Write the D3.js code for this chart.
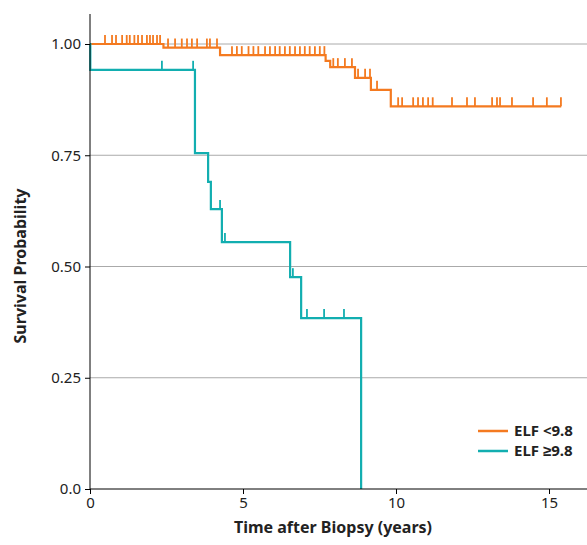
<!DOCTYPE html>
<html><head><meta charset="utf-8">
<script src="https://cdn.jsdelivr.net/npm/d3@7"></script>
<style>body{margin:0;background:#fff}text{font-family:"Noto Sans",sans-serif}</style>
</head><body><svg id="chart" width="587" height="545"></svg>
<script>
// step curves: [time, survival]
const lowSteps = [[0,1],[2.4,0.992],[4.25,0.975],[7.7,0.962],[7.85,0.948],[8.66,0.924],[9.18,0.897],[9.83,0.86],[15.4,0.86]];
const lowCensor = [0.49,0.72,0.85,1.05,1.2,1.3,1.45,1.57,1.7,1.86,1.96,2.06,2.19,2.29,
  2.55,2.78,3.0,3.17,3.33,3.5,3.82,3.92,4.15,
  4.64,4.8,4.96,5.18,5.34,5.5,5.72,5.88,6.05,6.2,6.37,6.53,6.7,6.86,7.02,7.18,7.35,7.51,7.66,
  7.95,8.1,8.33,8.56,8.76,8.99,9.15,9.38,
  10.07,10.2,10.56,10.72,10.88,11.05,11.2,11.83,12.32,12.58,13.14,13.3,13.4,13.79,14.48,14.93,15.39];
const highSteps = [[0,1],[0.01,0.942],[3.43,0.755],[3.86,0.69],[3.95,0.629],[4.31,0.555],[6.54,0.476],[6.9,0.384],[8.86,0],[8.86,0]];
const highCensor = [2.35,3.37,4.25,4.41,6.63,7.09,7.65,8.3];
const yTicks = [0,0.25,0.5,0.75,1];
const yTickLabels = ["0.0","0.25","0.50","0.75","1.00"];
const xTicks = [0,5,10,15];
const legendLabels = ["ELF <9.8","ELF \u22659.8"];
const colors = ["#F47A20","#12AEB0"];

const svg = d3.select("#chart");
const x = d3.scaleLinear().domain([0,15]).range([90,549]);
const y = d3.scaleLinear().domain([0,1]).range([489,44]);

// grid
svg.selectAll(".grid").data(yTicks.filter(d => d > 0)).enter().append("line")
  .attr("x1",90).attr("x2",587).attr("y1",d => y(d)).attr("y2",d => y(d))
  .attr("stroke","#aaa").attr("stroke-width",1);

function stepAt(steps, t) {
  let v = steps[0][1];
  for (const s of steps) if (s[0] <= t) v = s[1];
  return v;
}
const line = d3.line().x(d => x(d[0])).y(d => y(d[1])).curve(d3.curveStepAfter);
[[lowSteps,lowCensor],[highSteps,highCensor]].forEach(([steps,cens],i) => {
  svg.append("path").attr("d", line(steps)).attr("fill","none")
    .attr("stroke",colors[i]).attr("stroke-width",2.2);
  svg.selectAll(".c"+i).data(cens).enter().append("line")
    .attr("x1",d => x(d)).attr("x2",d => x(d))
    .attr("y1",d => y(stepAt(steps,d))).attr("y2",d => y(stepAt(steps,d)) - 9)
    .attr("stroke",colors[i]).attr("stroke-width",1.8);
});

// axes
const xa = svg.append("g").attr("transform","translate(0,489)")
  .call(d3.axisBottom(x).tickValues(xTicks).tickSize(5).tickSizeOuter(0));
xa.select(".domain").attr("d","M90,0H587");
const ya = svg.append("g").attr("transform","translate(90,0)")
  .call(d3.axisLeft(y).tickValues(yTicks).tickFormat((d,i) => yTickLabels[i]).tickSize(5).tickSizeOuter(0));
ya.select(".domain").attr("d","M0,489V14");
svg.selectAll(".tick text").attr("font-size",15).attr("fill","#222");
ya.selectAll(".tick text").attr("x",-9);

svg.append("text").attr("x",333).attr("y",533).attr("text-anchor","middle")
  .attr("font-size",16).attr("font-weight","bold").attr("fill","#222").text("Time after Biopsy (years)");
svg.append("text").attr("transform","translate(26,266) rotate(-90)").attr("text-anchor","middle")
  .attr("font-size",16).attr("font-weight","bold").attr("fill","#222").text("Survival Probability");

legendLabels.forEach((l,i) => {
  svg.append("line").attr("x1",478).attr("x2",508).attr("y1",431+i*20).attr("y2",431+i*20)
    .attr("stroke",colors[i]).attr("stroke-width",2.5);
  svg.append("text").attr("x",514).attr("y",436+i*20).attr("font-size",15)
    .attr("font-weight","bold").attr("fill","#222").text(l);
});
</script></body></html>
